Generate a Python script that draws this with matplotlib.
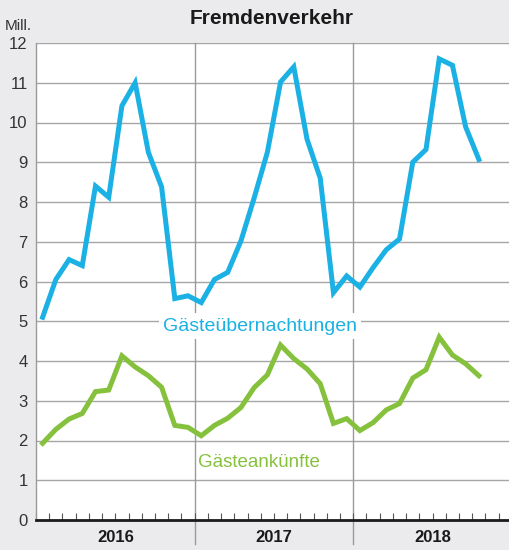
import matplotlib.pyplot as plt
import numpy as np

plt.rcParams['font.family'] = ['Liberation Sans', 'DejaVu Sans']

# Monatswerte Jan 2016 - Okt 2018, in Mio.
years = ['2016', '2017', '2018']
naechtigungen = [5.1, 6.05, 6.55, 6.4, 8.4, 8.12, 10.42, 11.0, 9.25, 8.38, 5.57, 5.64,
                 5.47, 6.05, 6.23, 7.02, 8.1, 9.25, 11.02, 11.4, 9.58, 8.6, 5.72, 6.14,
                 5.86, 6.35, 6.8, 7.07, 9.0, 9.32, 11.6, 11.44, 9.89, 9.07]
ankuenfte = [1.93, 2.28, 2.54, 2.68, 3.23, 3.27, 4.13, 3.85, 3.63, 3.34, 2.38, 2.33,
             2.12, 2.38, 2.56, 2.83, 3.33, 3.65, 4.4, 4.06, 3.8, 3.43, 2.43, 2.55,
             2.25, 2.45, 2.77, 2.93, 3.57, 3.78, 4.6, 4.15, 3.93, 3.63]

blue = '#1bb1e4'
green = '#86c13d'
bg = '#ebebed'

x = np.arange(len(naechtigungen)) + 0.5

fig = plt.figure(figsize=(5.09, 5.5), dpi=100, facecolor=bg)
ax = fig.add_axes([36 / 509, 30 / 550, 473 / 509, 477 / 550])
ax.set_facecolor('white')

ax.set_xlim(0, 35.78)
ax.set_ylim(0, 12)

# Gitter
for v in range(1, 13):
    ax.axhline(v, color='#a6a6a6', lw=1.0, zorder=1)
for b in (12, 24):
    ax.axvline(b, ymin=-0.05, ymax=1, color='#9a9a9a', lw=1.0, zorder=1, clip_on=False)

ax.plot(x, naechtigungen, color=blue, lw=3.6, solid_joinstyle='miter', zorder=3)
ax.plot(x, ankuenfte, color=green, lw=3.6, solid_joinstyle='miter', zorder=3)

ax.text(16.95, 4.88, 'Gästeübernachtungen', color=blue, fontsize=14, ha='center', va='center',
        zorder=4, bbox=dict(facecolor='white', edgecolor='none', pad=3.0))
ax.text(16.9, 1.45, 'Gästeankünfte', color=green, fontsize=13.5, ha='center', va='center', zorder=4)

for s in ('top', 'right'):
    ax.spines[s].set_visible(False)
ax.spines['left'].set_color('#9a9a9a')
ax.spines['left'].set_linewidth(1.0)
ax.spines['bottom'].set_color('#1a1a1a')
ax.spines['bottom'].set_linewidth(2.0)
ax.spines['bottom'].set_zorder(5)

ax.set_yticks(range(0, 13))
ax.tick_params(axis='y', length=0, labelsize=12, labelcolor='#333333', pad=6)
ax.set_xticks(np.arange(0, 36))
ax.set_xticklabels([])
ax.tick_params(axis='x', direction='in', length=5, width=0.8, color='#555555')

for i, yr in enumerate(years):
    ax.text(i * 12 + 6, -0.45, yr, ha='center', va='center', fontsize=12,
            fontweight='bold', color='#1a1a1a', clip_on=False)

fig.text(272 / 509, 1 - 18 / 550, 'Fremdenverkehr', ha='center', va='center',
         fontsize=15, fontweight='bold', color='#1a1a1a')
fig.text(5 / 509, 1 - 26 / 550, 'Mill.', ha='left', va='center', fontsize=11, color='#333333')

fig.savefig('out.png', dpi=100, facecolor=bg)
